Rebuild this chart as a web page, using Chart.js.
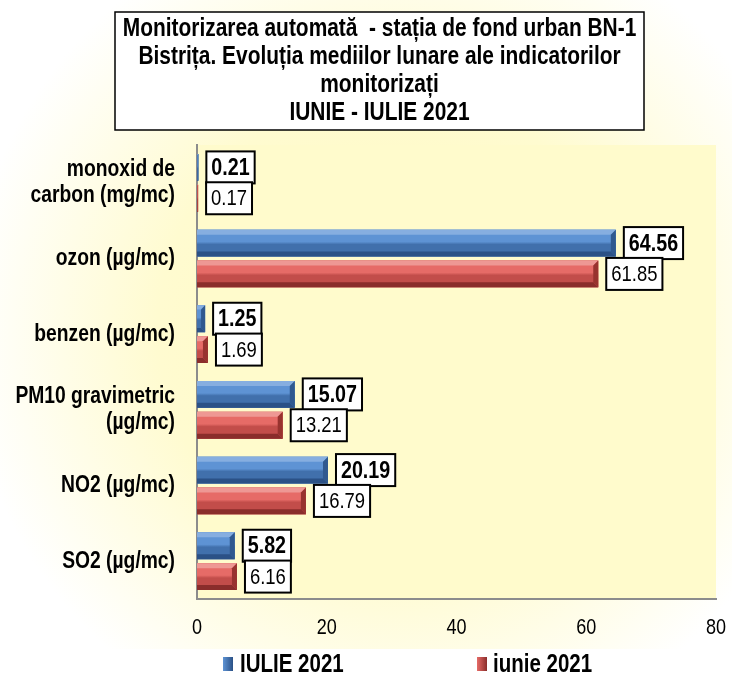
<!DOCTYPE html>
<html>
<head>
<meta charset="utf-8">
<script src="https://cdn.jsdelivr.net/npm/chart.js@4.4.1/dist/chart.umd.min.js"></script>
<style>
  html, body { margin: 0; padding: 0; background: #ffffff; }
  #wrap { width: 732px; height: 680px; }
</style>
</head>
<body>
<div id="wrap"><canvas id="c" width="732" height="680"></canvas></div>
<script>
// ---- data ----
const categories = [
  ['monoxid de', 'carbon (mg/mc)'],
  'ozon (µg/mc)',
  'benzen (µg/mc)',
  ['PM10 gravimetric', '(µg/mc)'],
  'NO2 (µg/mc)',
  'SO2 (µg/mc)'
];
const seriesNames = ['IULIE 2021', 'iunie 2021'];
const iulie2021 = [0.21, 64.56, 1.25, 15.07, 20.19, 5.82];
const iunie2021 = [0.17, 61.85, 1.69, 13.21, 16.79, 6.16];
const xTicks = [0, 20, 40, 60, 80];
const titleLines = [
  'Monitorizarea automată  - stația de fond urban BN-1',
  'Bistrița. Evoluția mediilor lunare ale indicatorilor',
  'monitorizați',
  'IUNIE - IULIE 2021'
];

const FONT = "'Liberation Sans', Arial, sans-serif";
Chart.defaults.font.family = FONT;
Chart.defaults.color = '#000000';

// The reference uses a narrow face; emulate it by condensing glyphs horizontally.
const SX = 0.82;
const canvas = document.getElementById('c');
const ctx2d = canvas.getContext('2d');
(function condense(ctx) {
  const fill = ctx.fillText.bind(ctx);
  const measure = ctx.measureText.bind(ctx);
  ctx.fillText = function (t, x, y, maxW) {
    this.save();
    this.translate(x, y);
    this.scale(SX, 1);
    if (maxW === undefined || maxW === null) fill(t, 0, 0);
    else fill(t, 0, 0, maxW / SX);
    this.restore();
  };
  ctx.measureText = function (t) {
    const m = measure(t);
    return {
      width: m.width * SX,
      actualBoundingBoxAscent: m.actualBoundingBoxAscent,
      actualBoundingBoxDescent: m.actualBoundingBoxDescent,
      actualBoundingBoxLeft: m.actualBoundingBoxLeft * SX,
      actualBoundingBoxRight: m.actualBoundingBoxRight * SX,
      fontBoundingBoxAscent: m.fontBoundingBoxAscent,
      fontBoundingBoxDescent: m.fontBoundingBoxDescent
    };
  };
})(ctx2d);

const palettes = [
  { light: '#86AEE0', top: '#5E93D4', bottom: '#4170AC', dark: '#2B5186', side: '#30598F', base: '#4F81BD' },
  { light: '#EE9894', top: '#E66B67', bottom: '#C24D4A', dark: '#8A2D2B', side: '#98332F', base: '#C0504D' }
];

function bevelRect(ctx, left, top, right, bottom, p) {
  const h = bottom - top;
  const w = right - left;
  const b = Math.max(0, Math.min(5, h / 4, w / 2));
  const g = ctx.createLinearGradient(0, top, 0, bottom);
  g.addColorStop(0, p.top);
  g.addColorStop(0.45, p.top);
  g.addColorStop(0.55, p.bottom);
  g.addColorStop(1, p.bottom);
  ctx.fillStyle = g;
  ctx.fillRect(left, top, w, h);
  ctx.fillStyle = p.light;
  ctx.beginPath();
  ctx.moveTo(left, top); ctx.lineTo(right, top); ctx.lineTo(right - b, top + b); ctx.lineTo(left, top + b);
  ctx.closePath(); ctx.fill();
  ctx.fillStyle = p.dark;
  ctx.beginPath();
  ctx.moveTo(left, bottom); ctx.lineTo(right, bottom); ctx.lineTo(right - b, bottom - b); ctx.lineTo(left, bottom - b);
  ctx.closePath(); ctx.fill();
  ctx.fillStyle = p.side;
  ctx.beginPath();
  ctx.moveTo(right, top); ctx.lineTo(right, bottom); ctx.lineTo(right - b, bottom - b); ctx.lineTo(right - b, top + b);
  ctx.closePath(); ctx.fill();
}

const decoPlugin = {
  id: 'deco',
  afterLayout(chart) {
    chart.titleBlock.left = 115;
    chart.titleBlock.right = 644;
  },
  beforeDraw(chart) {
    const ctx = chart.ctx;
    const W = chart.width, H = chart.height;
    ctx.save();
    const rg = ctx.createRadialGradient(395, 330, 0, 395, 330, 430);
    rg.addColorStop(0, '#FFF9BE');
    rg.addColorStop(0.55, '#FFFBD0');
    rg.addColorStop(1, '#FFFFFF');
    ctx.fillStyle = rg;
    ctx.fillRect(0, 0, W, H);
    const a = chart.chartArea;
    ctx.fillStyle = '#FFFBCC';
    ctx.fillRect(a.left, a.top, a.right - a.left, a.bottom - a.top);
    ctx.fillStyle = '#FFFFFF';
    ctx.fillRect(115, 12, 529, 118);
    ctx.strokeStyle = '#000000';
    ctx.lineWidth = 1.5;
    ctx.strokeRect(115, 12, 529, 118);
    ctx.fillStyle = '#FFFFFF';
    ctx.fillRect(93, 649, 624, 31);
    ctx.restore();
  },
  afterDatasetsDraw(chart) {
    const ctx = chart.ctx;
    ctx.save();
    chart.data.datasets.forEach((ds, di) => {
      const meta = chart.getDatasetMeta(di);
      meta.data.forEach((el) => {
        const { x, y, base, height } = el.getProps(['x', 'y', 'base', 'height'], true);
        const left = Math.min(base, x), right = Math.max(base, x);
        bevelRect(ctx, left, y - height / 2, right, y + height / 2, palettes[di]);
      });
    });
    chart.data.datasets.forEach((ds, di) => {
      const meta = chart.getDatasetMeta(di);
      const bold = di === 0;
      ctx.font = (bold ? 'bold 24px ' : '22.5px ') + FONT;
      meta.data.forEach((el, i) => {
        const { x, y } = el.getProps(['x', 'y'], true);
        const txt = ds.data[i].toFixed(2);
        const tw = ctx.measureText(txt).width;
        const bw = tw + 10, bh = 32;
        const bx = x + 8, by = y - bh / 2;
        ctx.fillStyle = '#FFFFFF';
        ctx.fillRect(bx, by, bw, bh);
        ctx.strokeStyle = '#000000';
        ctx.lineWidth = 2;
        ctx.strokeRect(bx, by, bw, bh);
        ctx.fillStyle = '#000000';
        ctx.textAlign = 'center';
        ctx.textBaseline = 'middle';
        ctx.fillText(txt, bx + bw / 2, y + 1);
      });
    });
    ctx.restore();
  },
  afterDraw(chart) {
    const ctx = chart.ctx;
    ctx.save();
    const items = [{ mx: 223, tx: 240 }, { mx: 477, tx: 493 }];
    ctx.font = 'bold 25px ' + FONT;
    ctx.textAlign = 'left';
    ctx.textBaseline = 'middle';
    chart.data.datasets.forEach((ds, di) => {
      const it = items[di];
      const p = palettes[di];
      const g = ctx.createLinearGradient(it.mx, 0, it.mx + 10, 0);
      g.addColorStop(0, p.top); g.addColorStop(1, p.dark);
      ctx.fillStyle = g;
      ctx.fillRect(it.mx, 657, 10, 14);
      ctx.fillStyle = '#000000';
      ctx.fillText(ds.label, it.tx, 665);
    });
    ctx.restore();
  }
};

new Chart(canvas, {
  type: 'bar',
  data: {
    labels: categories,
    datasets: [
      { label: seriesNames[0], data: iulie2021, backgroundColor: palettes[0].base, borderWidth: 0 },
      { label: seriesNames[1], data: iunie2021, backgroundColor: palettes[1].base, borderWidth: 0 }
    ]
  },
  options: {
    indexAxis: 'y',
    responsive: false,
    animation: false,
    devicePixelRatio: 1,
    categoryPercentage: 0.815,
    barPercentage: 0.87,
    layout: { padding: { left: 0, right: 16, top: 0, bottom: 42 } },
    plugins: {
      legend: { display: false },
      tooltip: { enabled: false },
      title: {
        display: true,
        text: titleLines,
        color: '#000000',
        font: { size: 25.5, weight: 'bold', family: FONT, lineHeight: 28 / 25.5 },
        padding: { top: 15, bottom: 18 }
      }
    },
    scales: {
      x: {
        min: 0, max: 80,
        afterBuildTicks(scale) { scale.ticks = xTicks.map(v => ({ value: v })); },
        afterFit(scale) { scale.paddingRight = 0; scale.paddingLeft = 0; scale.height = 39; },
        grid: { display: false, drawTicks: false },
        border: { display: true, color: '#8C8C8C', width: 2 },
        ticks: { font: { size: 22, lineHeight: 1.1 }, color: '#000000', padding: 17 }
      },
      y: {
        afterFit(scale) { scale.width = 197; scale.paddingTop = 0; scale.paddingBottom = 0; },
        grid: { display: false, drawTicks: false },
        border: { display: true, color: '#8C8C8C', width: 2 },
        ticks: { font: { size: 23.5, weight: 'bold', lineHeight: 1.1 }, color: '#000000', padding: 22 }
      }
    }
  },
  plugins: [decoPlugin]
});
</script>
</body>
</html>
